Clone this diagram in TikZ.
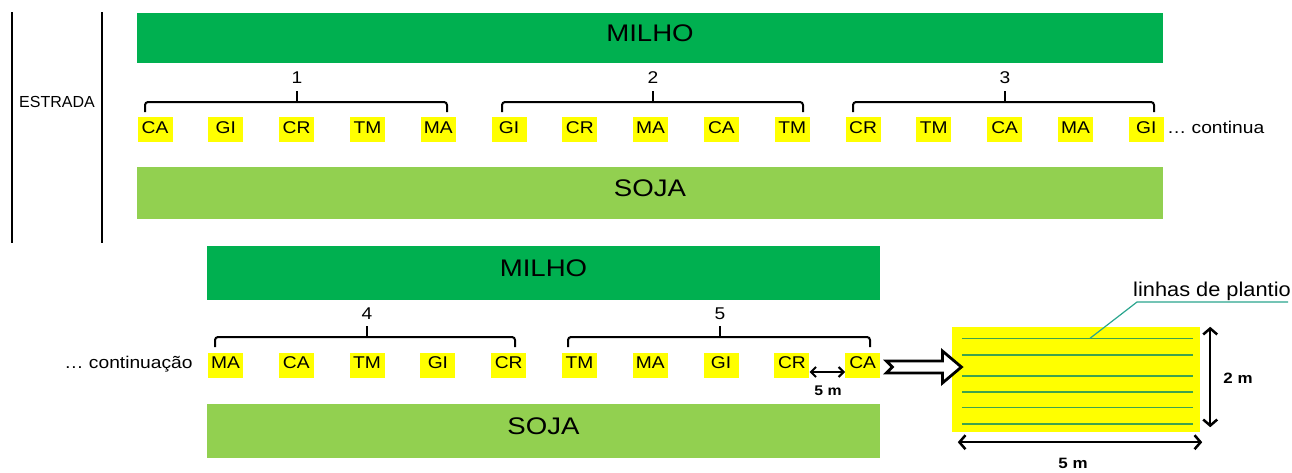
\documentclass[tikz,border=0pt]{standalone}
\usepackage{fontspec}
\setmainfont{Liberation Sans}
\usetikzlibrary{arrows.meta,calc}
\definecolor{milho}{HTML}{00B050}
\definecolor{soja}{HTML}{92D050}
\definecolor{plotyellow}{HTML}{FFFF00}
\definecolor{rowline}{HTML}{3FA34D}
\definecolor{leader}{HTML}{2AA58E}
% slightly widened lettering
\newcommand\wide[2][1.13]{\scalebox{#1}[1]{#2}}
\tikzset{
  bar/.style={inner sep=0pt,text height=0.72em,text depth=0pt,font=\fontsize{24}{24}\selectfont},
  lab/.style={fill=plotyellow,inner sep=0pt,minimum width=35pt,minimum height=25pt,
              text height=0.72em,text depth=0pt,font=\fontsize{17}{17}\selectfont},
  txt/.style={inner sep=0pt,text height=0.72em,text depth=0pt,font=\fontsize{17}{17}\selectfont},
  dim/.style={inner sep=0pt,text height=0.72em,text depth=0pt,font=\fontsize{14}{14}\selectfont\bfseries},
  brace/.style={line width=2pt,rounded corners=3pt},
  road/.style={line width=2.3pt},
  measure/.style={line width=2.5pt,{Straight Barb[length=6pt,width=14pt]}-{Straight Barb[length=6pt,width=14pt]}},
  smallmeasure/.style={line width=2pt,{Straight Barb[length=5pt,width=10pt]}-{Straight Barb[length=5pt,width=10pt]}},
  hollow/.style={line width=2.8pt,fill=white,line join=miter},
}
\begin{document}
\begin{tikzpicture}[x=1pt,y=-1pt]
\useasboundingbox (0,0) rectangle (1292,472);

% road
\draw[road] (12,12) -- (12,243);
\draw[road] (102,12) -- (102,243);
\node[txt,font=\fontsize{16}{16}\selectfont] (estrada) at (57,104) {ESTRADA};

% first strip
\node[bar,fill=milho,minimum width=1026pt,minimum height=50pt] (milhoA) at (650,38) {\wide[1.15]{MILHO}};
\node[bar,fill=soja,minimum width=1026pt,minimum height=52pt] (sojaA) at (650,193) {\wide[1.15]{SOJA}};
\foreach \t [count=\i from 0] in {CA,GI,CR,TM,MA,GI,CR,MA,CA,TM,CR,TM,CA,MA,GI}
  \node[lab] (a\i) at ({155+70.8*\i},129.5) {\wide{\t}};
\node[txt,anchor=west] (cont) at ($(a14.east)+(3,0)$) {\wide{… continua}};

\foreach \l/\r/\c/\n in {145/447/297/1,502/803/653/2,853/1154/1005/3}{
  \draw[brace] (\l,112) -- (\l,102) -- (\r,102) -- (\r,112);
  \draw[brace] (\c,102) -- (\c,91);
  \node[txt] (g\n) at (\c,80) {\wide{\n}};
}

% second strip
\node[bar,fill=milho,minimum width=673pt,minimum height=54pt] (milhoB) at (543.5,273) {\wide[1.15]{MILHO}};
\node[bar,fill=soja,minimum width=673pt,minimum height=54pt] (sojaB) at (543.5,431) {\wide[1.15]{SOJA}};
\foreach \t [count=\i from 0] in {MA,CA,TM,GI,CR,TM,MA,GI,CR,CA}
  \node[lab] (b\i) at ({225.5+70.8*\i},365) {\wide{\t}};
\node[txt,anchor=east] (contd) at ($(b0.west)+(-15,0)$) {\wide{… continuação}};

\foreach \l/\r/\c/\n in {215/515/367/4,568/870/720/5}{
  \draw[brace] (\l,347) -- (\l,337) -- (\r,337) -- (\r,347);
  \draw[brace] (\c,337) -- (\c,326);
  \node[txt] (g\n) at (\c,316) {\wide{\n}};
}

% spacing between plots
\coordinate (s1) at ($(b8.east)+(0,7)$);
\coordinate (s2) at ($(b9.west)+(0,7)$);
\draw[smallmeasure] (s1) -- (s2);
\node[dim] (sm) at (828,392) {\wide{5 m}};

% detail of one plot
\node[fill=plotyellow,inner sep=0pt,minimum width=248pt,minimum height=105pt] (plot) at (1076,379.5) {};
\foreach \y in {338.3,355,376,391.7,407.3,424}
  \draw[rowline,line width=1.6pt] ($(plot.west|-0,\y)+(10,0)$) -- ($(plot.east|-0,\y)+(-7,0)$);

\draw[hollow] ($(b9.east)+(6,-4)$) -- ++(56,0) -- ++(0,-10) -- ++(19,16) -- ++(-19,16)
  -- ++(0,-10) -- ++(-56,0) -- ++(6,-6) -- cycle;

\coordinate (lead) at (1090,338.3);
\coordinate (bend) at (1137,302);
\coordinate (leadend) at (1288,302);
\draw[leader,line width=1.2pt] (lead) -- (bend) -- (leadend);
\node[txt,anchor=base west,font=\fontsize{20}{20}\selectfont] (linhas) at (1133,296.5) {\wide[1.09]{linhas de plantio}};

\coordinate (v1) at ($(plot.north east)+(10,0)$);
\coordinate (v2) at ($(plot.south east)+(10,-5)$);
\draw[measure] (v1) -- (v2);
\node[dim,font=\fontsize{15}{15}\selectfont\bfseries] (two) at (1238,380) {\wide{2 m}};

\coordinate (h1) at ($(plot.south west)+(6,10)$);
\coordinate (h2) at ($(plot.south east)+(2,10)$);
\draw[measure] (h1) -- (h2);
\node[dim,font=\fontsize{15}{15}\selectfont\bfseries] (five) at (1073,465) {\wide{5 m}};
\end{tikzpicture}
\end{document}
